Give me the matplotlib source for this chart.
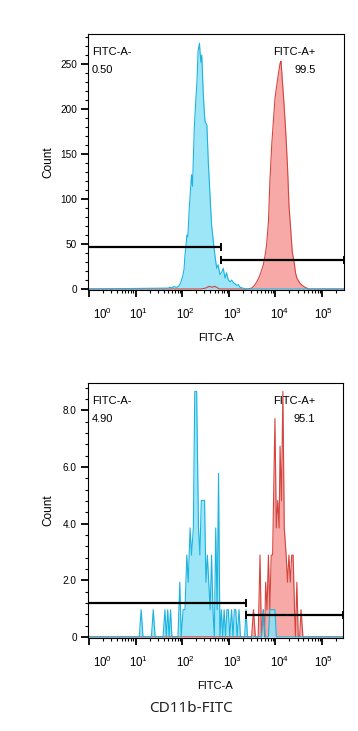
import numpy as np
import matplotlib
matplotlib.use('Agg')
import matplotlib.pyplot as plt
from matplotlib import transforms
from matplotlib.ticker import FixedLocator, LogLocator, MultipleLocator, NullFormatter

plt.rcParams['font.family'] = ['Liberation Sans', 'DejaVu Sans']
plt.rcParams['mathtext.fontset'] = 'custom'
plt.rcParams['mathtext.rm'] = 'Liberation Sans'
plt.rcParams['mathtext.it'] = 'Liberation Sans'

#### 上のパネル (log10 の位置, カウント)
top_neg_log = [-0.02, 1.70, 1.74, 1.78, 1.82, 1.86, 1.89, 1.92, 1.95, 1.98, 2.01, 2.04, 2.06, 2.08,
               2.10, 2.12, 2.15, 2.17, 2.20, 2.22, 2.24, 2.26, 2.29, 2.32, 2.34, 2.37, 2.40, 2.42,
               2.45, 2.47, 2.49, 2.53, 2.56, 2.60, 2.63, 2.67, 2.70, 2.74, 2.77, 2.81, 2.85, 2.88,
               2.92, 2.95, 2.99, 3.03, 3.06, 3.10, 3.13, 3.17, 3.20, 3.24, 3.30, 3.36, 5.47]
top_neg_cnt = [0, 1, 2, 1, 3, 2, 2, 3, 5, 9, 14, 22, 38, 47,
               60, 58, 88, 104, 127, 114, 146, 179, 208, 234, 264, 273, 252, 260,
               219, 200, 186, 182, 141, 101, 71, 52, 38, 23, 27, 16, 19, 23,
               12, 18, 10, 8, 10, 7, 6, 4, 5, 2, 1, 0, 0]
top_pos_log = [-0.02, 2.40, 2.50, 2.58, 2.64, 2.70, 2.80, 3.40, 3.49, 3.55, 3.60, 3.64, 3.67, 3.71,
               3.74, 3.78, 3.81, 3.85, 3.88, 3.92, 3.96, 3.99, 4.03, 4.06, 4.10, 4.12, 4.15, 4.18,
               4.22, 4.26, 4.29, 4.33, 4.36, 4.40, 4.43, 4.46, 4.53, 4.60, 4.67, 4.72, 5.47]
top_pos_cnt = [0, 0, 1, 3, 2, 3, 0, 0, 1, 4, 8, 12, 16, 22,
               27, 38, 49, 75, 119, 160, 190, 212, 227, 238, 251, 253, 230, 208,
               175, 134, 93, 64, 41, 30, 18, 12, 6, 3, 1, 0, 0]

#### 下のパネル
bot_neg_log = [-0.02, 1.08, 1.12, 1.16, 1.34, 1.38, 1.42, 1.59, 1.63, 1.66, 1.69, 1.72, 1.75, 1.78,
               1.91, 1.95, 1.98, 2.02, 2.06, 2.10, 2.13, 2.17, 2.20, 2.24, 2.27, 2.31, 2.35, 2.38,
               2.41, 2.44, 2.48, 2.51, 2.54, 2.57, 2.60, 2.63, 2.66, 2.69, 2.72, 2.75, 2.78, 2.81,
               2.84, 2.87, 2.90, 2.93, 2.96, 2.99, 3.02, 3.06, 3.09, 3.12, 3.15, 3.18, 3.22, 3.25,
               3.34, 3.37, 3.40, 3.70, 3.74, 3.78, 3.85, 3.88, 3.92, 3.96, 3.99, 4.02, 5.45]
bot_neg_cnt = [0, 0, 0.96, 0, 0, 0.96, 0, 0, 0.96, 0, 0.96, 0, 0.96, 0,
               0, 1.93, 0, 0.96, 0.96, 2.89, 1.93, 3.85, 2.89, 3.85, 8.67, 8.67, 3.85, 2.89,
               4.82, 4.82, 4.82, 1.93, 2.89, 1.93, 0.96, 2.89, 0.96, 0, 3.85, 0.96, 5.78, 0,
               0.96, 0, 0.96, 0, 0.96, 0.96, 0, 0.96, 0, 0.96, 0.96, 0, 0.96, 0,
               0, 0.96, 0, 0, 0.96, 0, 0, 0.96, 0.96, 0.96, 0.96, 0, 0]
bot_pos_log = [-0.02, 3.49, 3.53, 3.57, 3.63, 3.67, 3.70, 3.74, 3.77, 3.79, 3.82, 3.85, 3.88, 3.91,
               3.94, 3.99, 4.02, 4.05, 4.08, 4.10, 4.13, 4.16, 4.19, 4.23, 4.26, 4.29, 4.32, 4.35,
               4.38, 4.41, 4.43, 4.46, 4.49, 4.52, 4.55, 4.59, 5.45]
bot_pos_cnt = [0, 0, 0.96, 0, 0, 2.89, 0, 0.96, 0, 1.93, 0.96, 2.89, 0.96, 2.89,
               2.89, 7.71, 3.85, 4.82, 3.85, 6.74, 4.82, 8.67, 3.85, 2.89, 1.93, 2.89, 1.93, 2.89,
               2.89, 0.96, 0, 1.93, 0, 0, 0.96, 0, 0]

#### ゲート (区切り, 左バーの高さ, 右バーの高さ) とラベル
top_gate = [680, 47, 32]
bot_gate = [2340, 1.2, 0.78]
top_pct = ['0.50', '99.5']
bot_pct = ['4.90', '95.1']
top_yticks = [0, 50, 100, 150, 200, 250]
top_ylabels = ['0', '50', '100', '150', '200', '250']
bot_yticks = [0, 2, 4, 6, 8]
bot_ylabels = ['0', '2.0', '4.0', '6.0', '8.0']
decades = [0, 1, 2, 3, 4, 5]

blue_line = '#1DB3E0'
blue_fill = '#8CE2F7'
red_line = '#D5453F'
red_fill = '#F6A09E'

fig = plt.figure(figsize=(3.58, 7.31), dpi=100)
ax1 = fig.add_axes([88/358, 1-290/731, 256/358, 256/731])
ax2 = fig.add_axes([88/358, 1-638/731, 255/358, 255/731])


def draw_panel(ax, neg_x, neg_y, pos_x, pos_y, gate, pct, yt, ytl, ylim, xmax_log, yminor):
    px = 10 ** np.array(pos_x)
    nx = 10 ** np.array(neg_x)
    ax.fill_between(px, pos_y, 0, color=red_fill, lw=0, alpha=0.9)
    ax.plot(px, pos_y, color=red_line, lw=0.8)
    ax.fill_between(nx, neg_y, 0, color=blue_fill, lw=0, alpha=0.85)
    ax.plot(nx, neg_y, color=blue_line, lw=0.8)

    ax.set_xscale('log')
    ax.set_xlim(10 ** -0.02, 10 ** xmax_log)
    ax.set_ylim(*ylim)
    x0, x1 = ax.get_xlim()

    # ゲート
    ax.plot([x0, gate[0]], [gate[1], gate[1]], color='black', lw=1.6, solid_capstyle='butt')
    ax.plot([gate[0]], [gate[1]], marker='|', ms=6, mew=1.4, color='black')
    ax.plot([gate[0], x1], [gate[2], gate[2]], color='black', lw=1.6, solid_capstyle='butt')
    ax.plot([gate[0], x1], [gate[2], gate[2]], ls='none', marker='|', ms=6, mew=1.4,
            color='black', clip_on=False)

    ax.text(0.016, 0.93, 'FITC-A-', transform=ax.transAxes, fontsize=8, va='center')
    ax.text(0.016, 0.86, pct[0], transform=ax.transAxes, fontsize=8, va='center')
    ax.text(0.89, 0.93, 'FITC-A+', transform=ax.transAxes, fontsize=8, va='center', ha='right')
    ax.text(0.89, 0.86, pct[1], transform=ax.transAxes, fontsize=8, va='center', ha='right')

    ax.yaxis.set_major_locator(FixedLocator(yt))
    ax.set_yticklabels(ytl)
    ax.yaxis.set_minor_locator(MultipleLocator(yminor))
    ax.xaxis.set_major_locator(FixedLocator([10 ** d for d in decades]))
    ax.xaxis.set_minor_locator(LogLocator(base=10, subs=np.arange(2, 10), numticks=20))
    ax.xaxis.set_minor_formatter(NullFormatter())
    ax.tick_params(which='major', direction='out', length=5, width=1.3, labelsize=7.2, pad=3)
    ax.tick_params(which='minor', direction='out', length=2.5, width=0.8)
    ax.tick_params(axis='x', labelbottom=False)
    for s in ax.spines.values():
        s.set_linewidth(0.8)

    # x 目盛ラベル (10^n)
    shifts = [14, 3, 3, 4, 4, 1]
    base = transforms.blended_transform_factory(ax.transData, ax.transAxes)
    for d, sh in zip(decades, shifts):
        tr = transforms.offset_copy(base, fig=fig, x=sh, y=-24, units='dots')
        ax.text(10 ** d, 0, r'$\mathregular{10^{%d}}$' % d, transform=tr, fontsize=8.3,
                ha='center', va='center')

    ax.set_xlabel('FITC-A', fontsize=8)
    ax.xaxis.set_label_coords(0.5, -0.168)
    ax.set_ylabel('Count', fontsize=8.5)
    ax.yaxis.set_label_coords(-0.133, 0.5)


draw_panel(ax1, top_neg_log, top_neg_cnt, top_pos_log, top_pos_cnt, top_gate, top_pct,
           top_yticks, top_ylabels, (-1.1, 283.3), 5.47, 10)
draw_panel(ax2, bot_neg_log, bot_neg_cnt, bot_pos_log, bot_pos_cnt, bot_gate, bot_pct,
           bot_yticks, bot_ylabels, (-0.04, 8.97), 5.45, 0.4)

fig.text(191/358, 1-708/731, 'CD11b-FITC', fontsize=11, color='#222222',
         family=['Noto Sans', 'DejaVu Sans'], ha='center', va='center')

fig.savefig('out.png', dpi=100)
